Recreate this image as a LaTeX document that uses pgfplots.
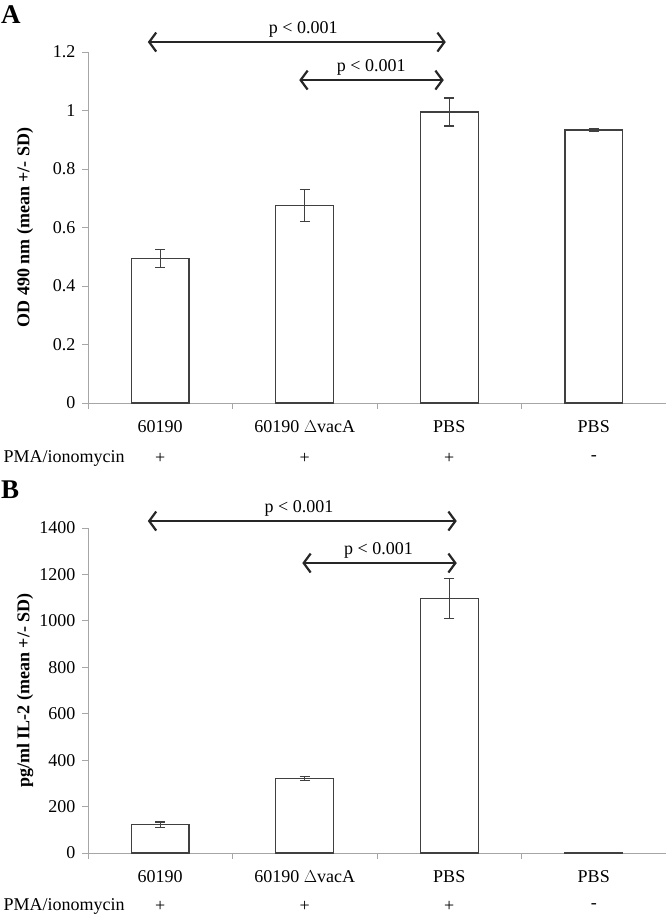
\documentclass[border=0pt]{standalone}
\usepackage{pgfplots}
\pgfplotsset{compat=1.18}
\usepackage{fontspec}
\setmainfont{Liberation Serif}
\usetikzlibrary{arrows.meta}
\definecolor{axgray}{HTML}{A6A6A6}
\definecolor{barline}{HTML}{404040}
\definecolor{arrowc}{HTML}{262626}
\tikzset{
  sig/.style={line width=2.2pt, draw=arrowc, {Straight Barb[length=7pt,width=19pt]}-{Straight Barb[length=7pt,width=19pt]}},
}
\pgfplotsset{
  panel/.style={
    scale only axis, width=578pt,
    xmin=-0.5, xmax=3.5,
    axis x line=bottom, axis y line=left,
    axis line style={-, draw=axgray, line width=0.8pt},
    xtick={-0.5,0.5,1.5,2.5}, xticklabels={},
    tick align=outside,
    major tick length=6pt,
    x tick style={draw=axgray, line width=0.8pt},
    y tick style={draw=axgray, line width=0.8pt},
    extra x ticks={0,1,2,3},
    extra x tick labels={60190, 60190 $\Delta$vacA, PBS, PBS},
    extra x tick style={major tick length=0pt, tick label style={yshift=-14pt}},
    tick label style={font=\fontsize{18}{21}\selectfont},
    /pgf/number format/assume math mode=true,
    /pgf/number format/1000 sep={},
    yticklabel style={xshift=-3pt},
    every axis y label/.style={at={(rel axis cs:0,0.5)}, xshift=-63pt, rotate=90, anchor=center, font=\fontsize{18}{21}\selectfont\bfseries},
    clip=false,
    ymin=0,
  },
  bars/.style={ybar, bar width=0.4, fill=white, draw=barline, line width=1.3pt,
    error bars/.cd, y dir=both, y explicit,
    error bar style={draw=barline, line width=1.3pt},
    error mark options={rotate=90, mark size=5pt, line width=1.3pt, draw=barline}},
}
\begin{document}
\begin{tikzpicture}[font=\fontsize{18}{21}\selectfont]
\useasboundingbox (0,0) rectangle (667pt,-914pt);
\node[anchor=north west, font=\fontsize{27}{29}\selectfont\bfseries, inner sep=0pt] at (1pt,-5pt) {A};
\begin{axis}[panel, at={(88pt,-403pt)}, anchor=south west, height=351pt,
  ymax=1.2, ytick={0,0.2,0.4,0.6,0.8,1,1.2},
  ylabel={OD 490 nm (mean +/- SD)}]
\addplot[bars] coordinates {
  (0,0.495) +- (0,0.031)
  (1,0.676) +- (0,0.055)
  (2,0.995) +- (0,0.048)
  (3,0.933) +- (0,0.005)
};
\draw[sig] (axis cs:-0.086,1.234) -- (axis cs:1.976,1.234);
\node[anchor=south, inner sep=1pt] at (axis cs:0.99,1.246) {p < 0.001};
\draw[sig] (axis cs:0.962,1.104) -- (axis cs:1.962,1.104);
\node[anchor=south, inner sep=1pt] at (axis cs:1.46,1.116) {p < 0.001};
\node[anchor=west] at ([xshift=-88pt,yshift=-55pt]axis cs:-0.5,0) {PMA/ionomycin};
\node at ([yshift=-55pt]axis cs:0,0) {+};
\node at ([yshift=-55pt]axis cs:1,0) {+};
\node at ([yshift=-55pt]axis cs:2,0) {+};
\node at ([yshift=-55pt]axis cs:3,0) {-};
\end{axis}
\node[anchor=north west, font=\fontsize{27}{29}\selectfont\bfseries, inner sep=0pt] at (1pt,-481pt) {B};
\begin{axis}[panel, at={(88pt,-853pt)}, anchor=south west, height=325pt,
  ymax=1400, ytick={0,200,400,600,800,1000,1200,1400},
  ylabel={pg/ml IL-2 (mean +/- SD)}]
\addplot[bars] coordinates {
  (0,122) +- (0,12)
  (1,322) +- (0,9)
  (2,1097) +- (0,86)
  (3,2) +- (0,1)
};
\draw[sig] (axis cs:-0.086,1430) -- (axis cs:2.052,1430);
\node[anchor=south, inner sep=1pt] at (axis cs:0.96,1445) {p < 0.001};
\draw[sig] (axis cs:0.983,1249) -- (axis cs:2.052,1249);
\node[anchor=south, inner sep=1pt] at (axis cs:1.51,1264) {p < 0.001};
\node[anchor=west] at ([xshift=-88pt,yshift=-53pt]axis cs:-0.5,0) {PMA/ionomycin};
\node at ([yshift=-53pt]axis cs:0,0) {+};
\node at ([yshift=-53pt]axis cs:1,0) {+};
\node at ([yshift=-53pt]axis cs:2,0) {+};
\node at ([yshift=-53pt]axis cs:3,0) {-};
\end{axis}
\end{tikzpicture}
\end{document}
